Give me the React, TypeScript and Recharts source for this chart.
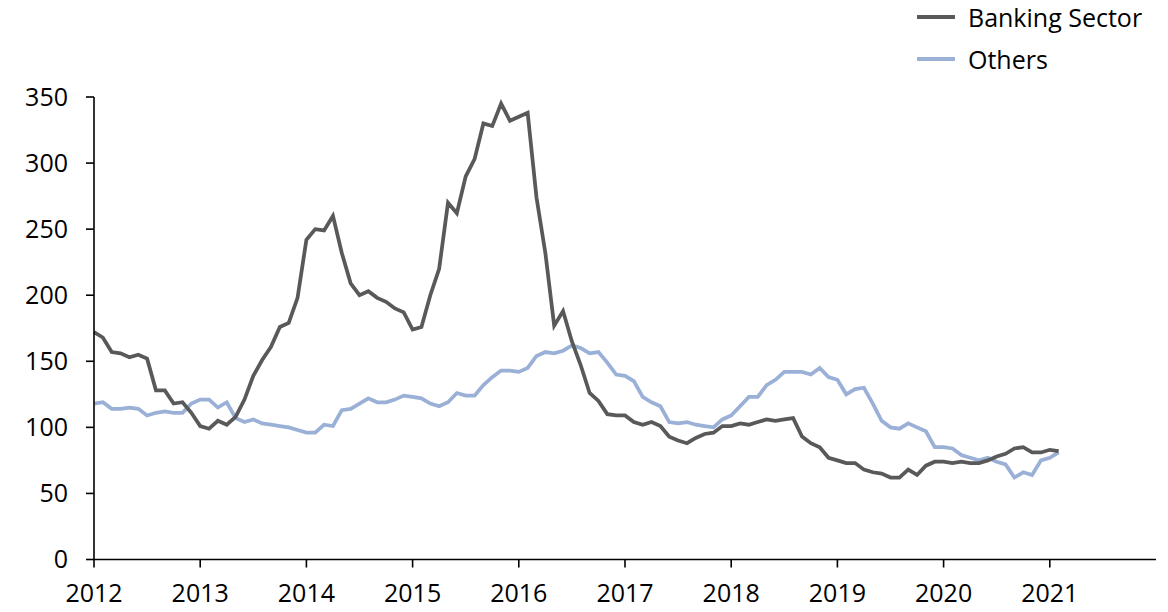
import { LineChart, Line, XAxis, YAxis, Legend } from 'recharts'

const yearTicks = ['2012', '2013', '2014', '2015', '2016', '2017', '2018', '2019', '2020', '2021']
const yTicks = [0, 50, 100, 150, 200, 250, 300, 350]

// monthly, Jan 2012 onwards
const banking = [
  172, 168, 157, 156, 153, 155, 152, 128, 128, 118, 119, 111,
  101, 99, 105, 102, 108, 121, 139, 151, 161, 176, 179, 198,
  242, 250, 249, 260, 232, 209, 200, 203, 198, 195, 190, 187,
  174, 176, 200, 220, 270, 262, 290, 303, 330, 328, 345, 332,
  335, 338, 274, 232, 177, 188, 165, 147, 126, 120, 110, 109,
  109, 104, 102, 104, 101, 93, 90, 88, 92, 95, 96, 101,
  101, 103, 102, 104, 106, 105, 106, 107, 93, 88, 85, 77,
  75, 73, 73, 68, 66, 65, 62, 62, 68, 64, 71, 74,
  74, 73, 74, 73, 73, 75, 78, 80, 84, 85, 81, 81,
  83, 82,
]

const others = [
  118, 119, 114, 114, 115, 114, 109, 111, 112, 111, 111, 118,
  121, 121, 115, 119, 107, 104, 106, 103, 102, 101, 100, 98,
  96, 96, 102, 101, 113, 114, 118, 122, 119, 119, 121, 124,
  123, 122, 118, 116, 119, 126, 124, 124, 132, 138, 143, 143,
  142, 145, 154, 157, 156, 158, 162, 160, 156, 157, 149, 140,
  139, 135, 123, 119, 116, 104, 103, 104, 102, 101, 100, 106,
  109, 116, 123, 123, 132, 136, 142, 142, 142, 140, 145, 138,
  136, 125, 129, 130, 118, 105, 100, 99, 103, 100, 97, 85,
  85, 84, 79, 77, 75, 77, 74, 72, 62, 66, 64, 75,
  77, 81,
]

const data = banking.map((b, i) => ({ m: i, banking: b, others: others[i] }))

const FONT = '"Open Sans", sans-serif'
const DARK = '#595959'
const BLUE = '#9AB0D6'

function ChartLegend() {
  const items = [
    { label: 'Banking Sector', color: DARK },
    { label: 'Others', color: BLUE },
  ]
  return (
    <div style={{ fontFamily: FONT, fontSize: 25, color: '#000' }}>
      {items.map(it => (
        <div key={it.label} style={{ display: 'flex', alignItems: 'center', height: 42 }}>
          <div style={{ width: 38, height: 4, background: it.color, marginRight: 13 }} />
          <span>{it.label}</span>
        </div>
      ))}
    </div>
  )
}

export default function App() {
  return (
    <div style={{ position: 'absolute', left: 0, top: 0, width: 1168, height: 612, background: '#fff' }}>
      <LineChart width={1168} height={612} data={data} margin={{ top: 97, right: 12, bottom: 0, left: 0 }}>
        <XAxis
          dataKey="m"
          type="number"
          domain={[0, 120]}
          ticks={yearTicks.map((_, i) => i * 12)}
          tickFormatter={v => yearTicks[Math.round(v / 12)]}
          height={52.5}
          tickSize={8}
          tickMargin={17}
          stroke="#000"
          strokeWidth={1.6}
          tick={{ fill: '#000', fontSize: 25, fontFamily: FONT }}
        />
        <YAxis
          domain={[0, 350]}
          ticks={yTicks}
          width={94}
          tickSize={8}
          tickMargin={18}
          stroke="#000"
          strokeWidth={1.6}
          tick={{ fill: '#000', fontSize: 25, fontFamily: FONT }}
        />
        <Legend
          layout="vertical"
          align="center"
          verticalAlign="middle"
          wrapperStyle={{ top: -4, left: 917, width: 251 }}
          content={() => <ChartLegend />}
        />
        <Line type="linear" dataKey="others" stroke={BLUE} strokeWidth={3.75} dot={false} isAnimationActive={false} />
        <Line type="linear" dataKey="banking" stroke={DARK} strokeWidth={3.75} dot={false} isAnimationActive={false} />
      </LineChart>
    </div>
  )
}
